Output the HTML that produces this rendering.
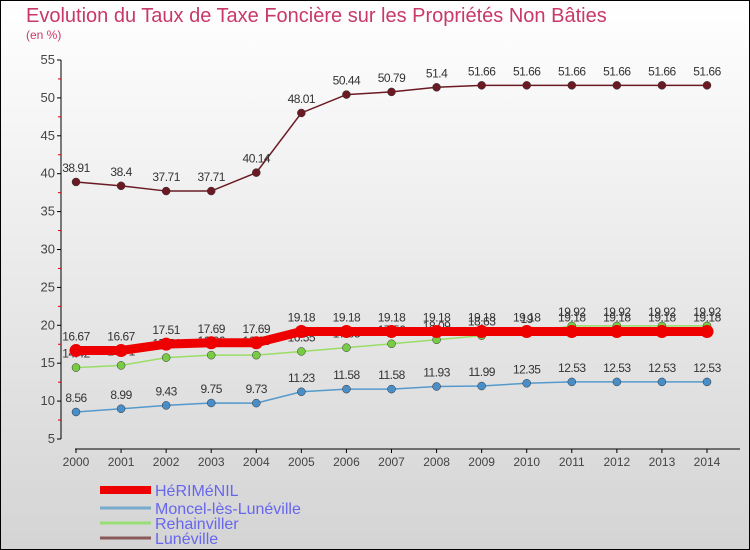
<!DOCTYPE html>
<html><head><meta charset="utf-8"><style>
body{margin:0}
svg{display:block;font-family:"Liberation Sans",sans-serif}
</style></head><body>
<svg width="750" height="550" xmlns="http://www.w3.org/2000/svg">
<defs><linearGradient id="bg" x1="0" y1="0" x2="0" y2="1"><stop offset="0" stop-color="#ffffff"/><stop offset="1" stop-color="#d4d4d4"/></linearGradient></defs>
<rect x="0.5" y="0.5" width="749" height="549" fill="url(#bg)" stroke="#000"/>
<text x="26" y="22" font-size="20" fill="#c8386a">Evolution du Taux de Taxe Foncière sur les Propriétés Non Bâties</text>
<text x="26" y="39" font-size="12" fill="#c8386a">(en %)</text>
<g id="axes"></g><g id="series"></g><g id="legend"></g>
</svg>
<script>
const years=[2000,2001,2002,2003,2004,2005,2006,2007,2008,2009,2010,2011,2012,2013,2014];
const herimenil=[16.67,16.67,17.51,17.69,17.69,19.18,19.18,19.18,19.18,19.18,19.18,19.18,19.18,19.18,19.18];
const moncel=[8.56,8.99,9.43,9.75,9.73,11.23,11.58,11.58,11.93,11.99,12.35,12.53,12.53,12.53,12.53];
const rehain=[14.42,14.71,15.74,16.06,16.06,16.55,17.05,17.56,18.09,18.63,19,19.92,19.92,19.92,19.92];
const luneville=[38.91,38.4,37.71,37.71,40.14,48.01,50.44,50.79,51.4,51.66,51.66,51.66,51.66,51.66,51.66];
const yTicks=[5,10,15,20,25,30,35,40,45,50,55];
const NS="http://www.w3.org/2000/svg";
const X=i=>76+i*(707-76)/(years.length-1);
const Y=v=>439-(v-5)*(439-60)/50;
function mk(tag,attrs,parent,txt){const e=document.createElementNS(NS,tag);for(const k in attrs)e.setAttribute(k,attrs[k]);if(txt!==undefined)e.textContent=txt;parent.appendChild(e);return e;}
const ax=document.getElementById('axes');
let yl=mk('line',{x1:61,y1:Y(55),x2:61,y2:Y(5),stroke:'#000'},ax);


yTicks.forEach(t=>{
 mk('line',{x1:57,y1:Y(t),x2:61,y2:Y(t),stroke:'#000'},ax);
 if(t<55) mk('line',{x1:58,y1:Y(t+2.5),x2:61,y2:Y(t+2.5),stroke:'#d00'},ax);
 const l=mk('text',{x:55,y:Y(t)+4,'font-size':13,'text-anchor':'end',fill:'#444'},ax,String(t));
 
 
});
let xl=mk('line',{x1:75,y1:449,x2:740,y2:449,stroke:'#000'},ax);


years.forEach((y,i)=>{
 mk('line',{x1:X(i),y1:449,x2:X(i),y2:453,stroke:'#000'},ax);
 const l=mk('text',{x:X(i),y:466,'font-size':12,'text-anchor':'middle',fill:'#444'},ax,String(y));
 
 
});
const sg=document.getElementById('series');
const series=[
 {name:'luneville',data:luneville,c:'#6b1a24',w:1.5,r:4,dot:'#6b1a24'},
 {name:'moncel',data:moncel,c:'#5599cc',w:1.5,r:4,dot:'#4a8ec8'},
 {name:'rehainviller',data:rehain,c:'#99dd66',w:1.5,r:4,dot:'#77cc44'},
 {name:'herimenil',data:herimenil,c:'#ee0000',w:9,r:6.5,dot:'#ee0000'}
];
series.forEach(s=>{
 const g=mk('g',{},sg);
 
 
 const p=mk('polyline',{points:s.data.map((v,i)=>X(i)+','+Y(v)).join(' '),fill:'none',stroke:s.c,'stroke-width':s.w},g);
 
 
 s.data.forEach((v,i)=>{
  const c=mk('circle',{cx:X(i),cy:Y(v),r:s.r,fill:s.dot,stroke:s.w>2?'none':'#333','stroke-width':0.5},g);
  
  
  const t=mk('text',{x:X(i),y:Y(v)-10,'font-size':12,'text-anchor':'middle',fill:'#333','letter-spacing':'-0.5'},g,String(v));
  
  
 });
});
const lg=document.getElementById('legend');
[['HéRIMéNIL','#ee0000',8,490],['Moncel-lès-Lunéville','#77aacc',3,508],['Rehainviller','#99dd77',3,523],['Lunéville','#8a5a5a',3,538]].forEach(([n,c,w,y])=>{
 const g=mk('g',{},lg);
 
 
 mk('line',{x1:100,y1:y,x2:151,y2:y,stroke:c,'stroke-width':w},g);
 mk('text',{x:155,y:y+6,'font-size':16,fill:'#6666ee'},g,n);
});
</script>
</body></html>
